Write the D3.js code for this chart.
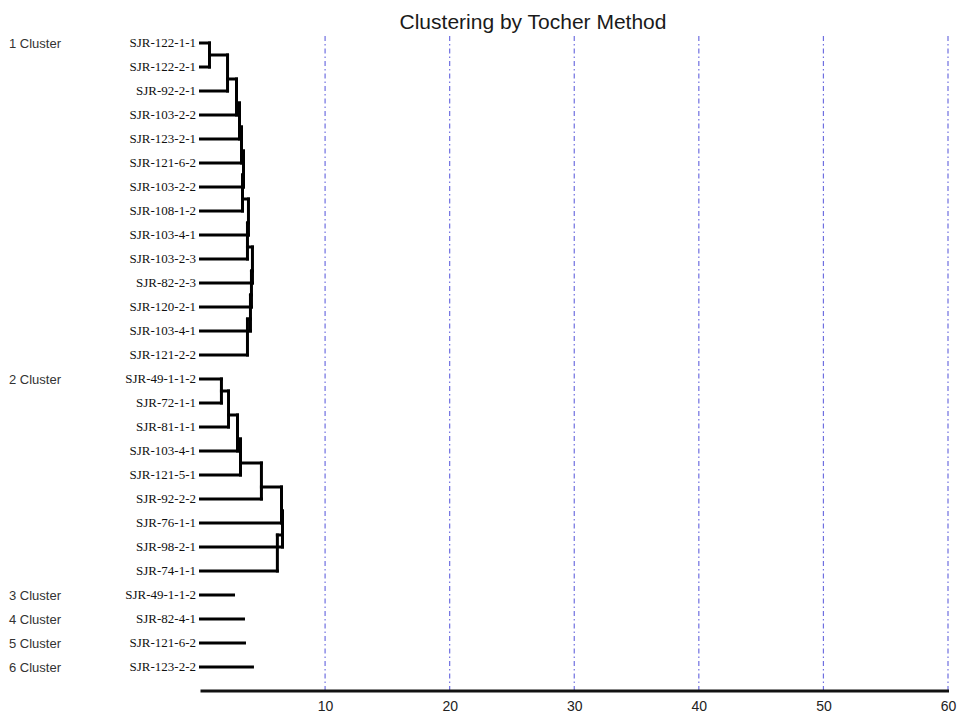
<!DOCTYPE html>
<html>
<head>
<meta charset="utf-8">
<script src="https://cdn.jsdelivr.net/npm/d3@7"></script>
<style>
  html, body { margin: 0; padding: 0; background: #fff; }
  svg { display: block; }
</style>
</head>
<body>
<svg id="chart" width="960" height="715"></svg>
<script>
// ---------------- data ----------------
const chartTitle = "Clustering by Tocher Method";
const clusterNames = ["1 Cluster", "2 Cluster", "3 Cluster", "4 Cluster", "5 Cluster", "6 Cluster"];

const cluster1Leaves = ["SJR-122-1-1", "SJR-122-2-1", "SJR-92-2-1", "SJR-103-2-2", "SJR-123-2-1",
  "SJR-121-6-2", "SJR-103-2-2", "SJR-108-1-2", "SJR-103-4-1", "SJR-103-2-3", "SJR-82-2-3",
  "SJR-120-2-1", "SJR-103-4-1", "SJR-121-2-2"];
const cluster1Merge = [0.72, 2.17, 2.89, 3.13, 3.29, 3.45, 3.37, 3.85, 3.77, 4.17, 4.09, 4.01, 3.77];

const cluster2Leaves = ["SJR-49-1-1-2", "SJR-72-1-1", "SJR-81-1-1", "SJR-103-4-1", "SJR-121-5-1",
  "SJR-92-2-2", "SJR-76-1-1", "SJR-98-2-1", "SJR-74-1-1"];
const cluster2Merge = [1.68, 2.25, 2.97, 3.21, 4.89, 6.5, 6.58, 6.17];

const cluster3Leaves = ["SJR-49-1-1-2"];
const cluster3Merge = [2.65];
const cluster4Leaves = ["SJR-82-4-1"];
const cluster4Merge = [3.45];
const cluster5Leaves = ["SJR-121-6-2"];
const cluster5Merge = [3.53];
const cluster6Leaves = ["SJR-123-2-2"];
const cluster6Merge = [4.17];

const xTicks = [10, 20, 30, 40, 50, 60];
const xDomain = [0, 60];

// ---------------- build ----------------
const clusters = [
  { leaves: cluster1Leaves, merge: cluster1Merge },
  { leaves: cluster2Leaves, merge: cluster2Merge },
  { leaves: cluster3Leaves, merge: cluster3Merge },
  { leaves: cluster4Leaves, merge: cluster4Merge },
  { leaves: cluster5Leaves, merge: cluster5Merge },
  { leaves: cluster6Leaves, merge: cluster6Merge }
];
let idx = 0;
clusters.forEach((c, ci) => {
  c.name = clusterNames[ci];
  c.rows = c.leaves.map(() => idx++);
});
const totalRows = idx;

const svg = d3.select("#chart");
const x = d3.scaleLinear().domain(xDomain).range([200.5, 948]);
const y = d3.scalePoint().domain(d3.range(totalRows)).range([43, 667]);
const axisY = 691;

// gridlines
svg.append("g").selectAll("line").data(xTicks).join("line")
  .attr("x1", d => x(d)).attr("x2", d => x(d))
  .attr("y1", 36).attr("y2", axisY + 3)
  .attr("stroke", "#6f6fe0").attr("stroke-width", 1.2)
  .attr("stroke-dasharray", "5,3,1.5,3");

// title
svg.append("text").attr("x", 533).attr("y", 29)
  .attr("text-anchor", "middle")
  .style("font-family", "'Liberation Sans', Arial, sans-serif")
  .style("font-size", "21px").attr("fill", "#1a1a1a")
  .text(chartTitle);

// x axis
const xAxis = d3.axisBottom(x).tickValues(xTicks).tickSize(0).tickPadding(10).tickFormat(d3.format("d"));
const gAxis = svg.append("g").attr("transform", `translate(0,${axisY})`).call(xAxis);
gAxis.attr("font-size", null).attr("font-family", null);
gAxis.select(".domain").remove();
gAxis.selectAll("text")
  .attr("font-family", "'Liberation Sans', Arial, sans-serif")
  .attr("font-size", "14px").attr("fill", "#222");
svg.append("line").attr("x1", x(0)).attr("x2", x(60) + 1)
  .attr("y1", axisY).attr("y2", axisY)
  .attr("stroke", "#111").attr("stroke-width", 3);

// dendrogram segments
const segs = [];
clusters.forEach(c => {
  const ys = c.rows.map(r => y(r));
  if (c.leaves.length === 1) {
    segs.push([0, ys[0], c.merge[0], ys[0]]);
    return;
  }
  let prev = { h: 0, y: ys[0] };
  for (let k = 1; k < c.leaves.length; k++) {
    const h = c.merge[k - 1];
    segs.push([prev.h, prev.y, h, prev.y]);
    segs.push([0, ys[k], h, ys[k]]);
    segs.push([h, prev.y, h, ys[k]]);
    prev = { h: h, y: (ys[k - 1] + ys[k]) / 2 };
  }
});
svg.append("g").selectAll("line").data(segs).join("line")
  .attr("x1", d => x(d[0])).attr("y1", d => d[1])
  .attr("x2", d => x(d[2])).attr("y2", d => d[3])
  .attr("stroke", "#000").attr("stroke-width", 3)
  .attr("stroke-linecap", "square");

// leaf labels
const leafData = [];
clusters.forEach(c => c.leaves.forEach((l, i) => leafData.push({ label: l, row: c.rows[i] })));
svg.append("g").selectAll("text").data(leafData).join("text")
  .attr("x", 196).attr("y", d => y(d.row) + 4)
  .attr("text-anchor", "end")
  .style("font-family", "'Liberation Serif', 'Times New Roman', serif")
  .style("font-size", "13px").attr("fill", "#111")
  .text(d => d.label);

// cluster labels
svg.append("g").selectAll("text").data(clusters).join("text")
  .attr("x", 9).attr("y", d => y(d.rows[0]) + 4.5)
  .style("font-family", "'Liberation Sans', Arial, sans-serif")
  .style("font-size", "13px").attr("fill", "#333")
  .text(d => d.name);
</script>
</body>
</html>
